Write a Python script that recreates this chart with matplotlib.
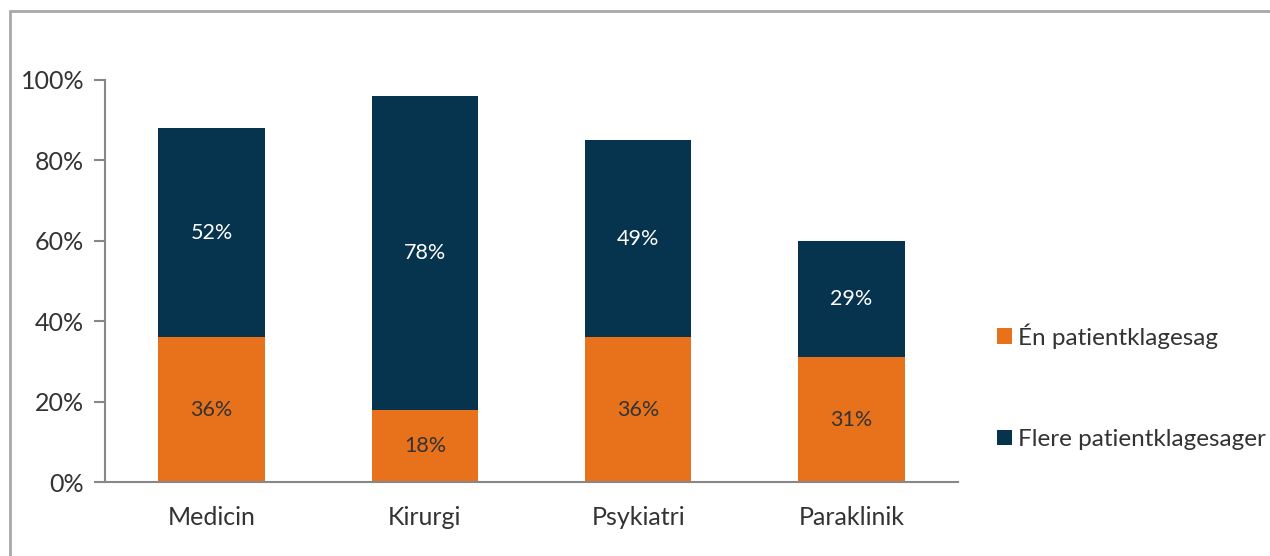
import numpy as np
import matplotlib.pyplot as plt
from matplotlib.patches import Rectangle
from matplotlib.ticker import FuncFormatter

plt.rcParams['font.family'] = ['Lato', 'DejaVu Sans']

categories = ['Medicin', 'Kirurgi', 'Psykiatri', 'Paraklinik']
en_klagesag = [36, 18, 36, 31]
flere_klagesager = [52, 78, 49, 29]
series_names = ['Én patientklagesag', 'Flere patientklagesager']

orange = '#E8711C'
navy = '#06344E'
text_col = '#333333'
axis_col = '#878787'

fig = plt.figure(figsize=(12.7, 5.56), dpi=100)
# outer frame of the chart object (runs off the right and bottom edge)
fig.patches.append(Rectangle((9.5 / 1270, -0.1), 1.2, 1 - 10.5 / 556 + 0.1,
                             transform=fig.transFigure, fill=False,
                             edgecolor='#A8A8A8', linewidth=2))

ax = fig.add_axes([105 / 1270, 74 / 556, 853 / 1270, 402 / 556])
x = np.arange(len(categories))
b1 = ax.bar(x, en_klagesag, width=0.5, color=orange, label=series_names[0])
b2 = ax.bar(x, flere_klagesager, width=0.5, bottom=en_klagesag, color=navy,
            label=series_names[1])

for i in range(len(categories)):
    ax.text(x[i], en_klagesag[i] / 2, f'{en_klagesag[i]}%', ha='center',
            va='center', fontsize=15.5, color=text_col)
    ax.text(x[i], en_klagesag[i] + flere_klagesager[i] / 2,
            f'{flere_klagesager[i]}%', ha='center', va='center',
            fontsize=15.5, color='white')

ax.set_xlim(-0.5, len(categories) - 0.5)
ax.set_ylim(0, 100)
ax.set_yticks(range(0, 101, 20))
ax.yaxis.set_major_formatter(FuncFormatter(lambda v, p: f'{int(v)}%'))
ax.set_xticks(x)
ax.set_xticklabels(categories)
ax.tick_params(axis='y', length=8, width=1.5, color=axis_col, labelsize=18,
               labelcolor=text_col, pad=7)
ax.tick_params(axis='x', length=0, labelsize=18, labelcolor=text_col, pad=17)
for s in ['top', 'right']:
    ax.spines[s].set_visible(False)
for s in ['left', 'bottom']:
    ax.spines[s].set_color(axis_col)
    ax.spines[s].set_linewidth(1.5)

handles = [b1, b2]
leg = fig.legend(handles, series_names, loc='upper left',
                 bbox_to_anchor=(985 / 1270, 1 - 311 / 556), frameon=False,
                 fontsize=17.5, labelcolor=text_col, handlelength=0.6,
                 handleheight=0.6, handletextpad=0.25, labelspacing=3.3,
                 borderpad=0)

fig.savefig('out.png', dpi=100)
